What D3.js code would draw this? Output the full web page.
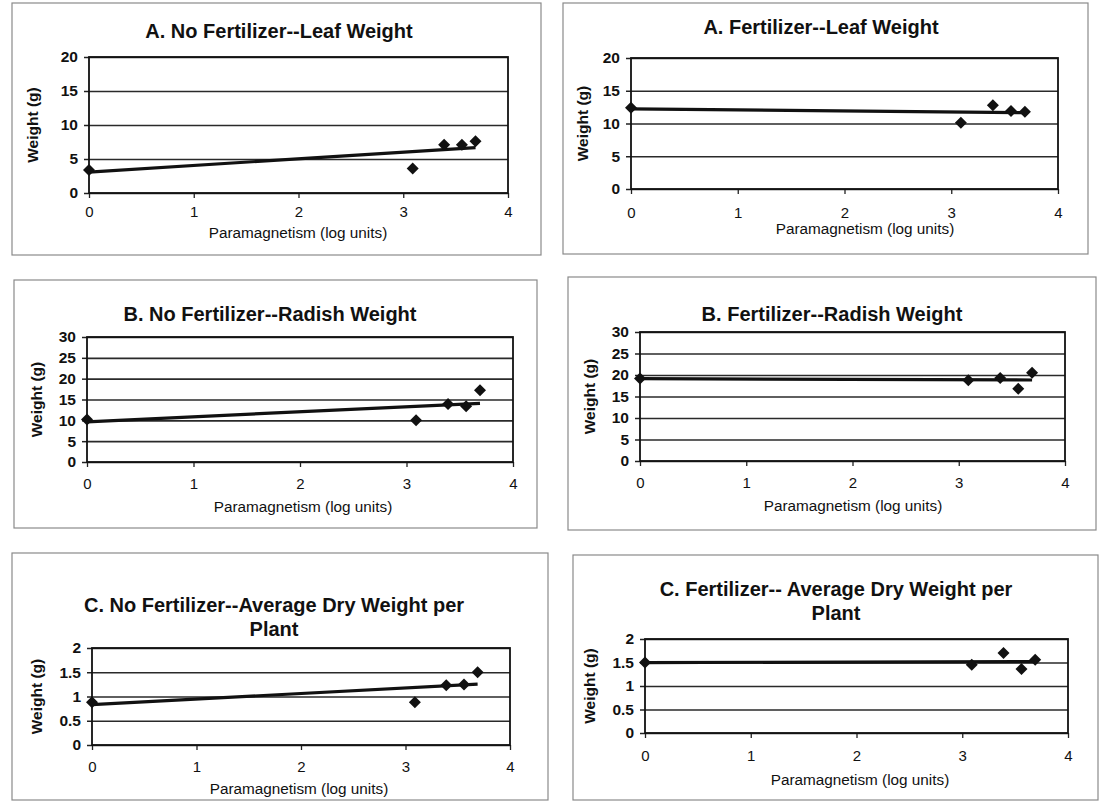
<!DOCTYPE html>
<html>
<head>
<meta charset="utf-8">
<script src="https://cdn.jsdelivr.net/npm/d3@7"></script>
<style>
  html, body { margin: 0; padding: 0; background: #ffffff; }
  svg { display: block; }
  text { font-family: Arial, "Liberation Sans", sans-serif; fill: #111; }
</style>
</head>
<body>
<svg id="chart" width="1102" height="807"></svg>
<script>
// ---------------- data ----------------
const xTicks = [0, 1, 2, 3, 4];
const paramagnetism = [0, 3.09, 3.39, 3.56, 3.69];

const leafNoFert   = [3.4, 3.6, 7.1, 7.1, 7.6];
const leafFert     = [12.4, 10.1, 12.8, 11.9, 11.8];
const radishNoFert = [10.2, 10.0, 13.9, 13.4, 17.2];
const radishFert   = [19.2, 18.8, 19.3, 16.8, 20.5];
const dryNoFert    = [0.88, 0.88, 1.23, 1.25, 1.5];
const dryFert      = [1.5, 1.45, 1.70, 1.36, 1.56];

const leafTicks   = [0, 5, 10, 15, 20];
const radishTicks = [0, 5, 10, 15, 20, 25, 30];
const dryTicks    = [0, 0.5, 1, 1.5, 2];

const titles = [
  ["A. No Fertilizer--Leaf Weight"],
  ["A. Fertilizer--Leaf Weight"],
  ["B. No Fertilizer--Radish Weight"],
  ["B. Fertilizer--Radish Weight"],
  ["C. No Fertilizer--Average Dry Weight per", "Plant"],
  ["C. Fertilizer-- Average Dry Weight per", "Plant"]
];
const xTitle = "Paramagnetism (log units)";
const yTitle = "Weight (g)";

const seriesList = [leafNoFert, leafFert, radishNoFert, radishFert, dryNoFert, dryFert];
const tickList = [leafTicks, leafTicks, radishTicks, radishTicks, dryTicks, dryTicks];

// ---------------- layout ----------------
const layout = [
  { box: [12, 3, 541, 255],  plot: [89, 508, 57, 193],  titleY: 31,  titleX: 279, xlabY: 233, xlabX: 298, ylabX: 33, tickGap: 19 },
  { box: [563, 3, 1088, 254], plot: [631, 1058, 58, 189], titleY: 27,  titleX: 821, xlabY: 229, xlabX: 865, ylabX: 583, tickGap: 24 },
  { box: [14, 280, 537, 528], plot: [87, 513, 337, 462], titleY: 314, titleX: 270, xlabY: 507, xlabX: 303, ylabX: 37, tickGap: 22 },
  { box: [568, 277, 1096, 530], plot: [640, 1065, 332, 461], titleY: 314, titleX: 832, xlabY: 506, xlabX: 853, ylabX: 590, tickGap: 22 },
  { box: [12, 553, 548, 800], plot: [92, 510, 648, 745], titleY: 605, titleX: 274, xlabY: 789, xlabX: 299, ylabX: 37, tickGap: 22 },
  { box: [573, 555, 1098, 800], plot: [645, 1068, 639, 733], titleY: 589, titleX: 836, xlabY: 780, xlabX: 860, ylabX: 590, tickGap: 23 }
];

const svg = d3.select("#chart");

function diamondPath(cx, cy, r) {
  const p = d3.path();
  p.moveTo(cx, cy - r);
  p.lineTo(cx + r, cy);
  p.lineTo(cx, cy + r);
  p.lineTo(cx - r, cy);
  p.closePath();
  return p.toString();
}

seriesList.forEach((vals, i) => {
  const L = layout[i];
  const [l, r, t, b] = L.plot;
  const ticks = tickList[i];
  const g = svg.append("g");

  // panel frame
  g.append("rect")
    .attr("x", L.box[0]).attr("y", L.box[1])
    .attr("width", L.box[2] - L.box[0]).attr("height", L.box[3] - L.box[1])
    .attr("fill", "none").attr("stroke", "#8a8a8a").attr("stroke-width", 1.2);

  // title
  titles[i].forEach((line, k) => {
    g.append("text")
      .attr("x", L.titleX).attr("y", L.titleY + k * 23.5)
      .attr("dy", "0.35em")
      .attr("text-anchor", "middle")
      .style("font-size", "20px").style("font-weight", "bold")
      .text(line);
  });

  const x = d3.scaleLinear().domain([0, 4]).range([l, r]);
  const y = d3.scaleLinear().domain([ticks[0], ticks[ticks.length - 1]]).range([b, t]);

  // y axis with gridlines
  const yAxis = d3.axisLeft(y).tickValues(ticks).tickSizeInner(-(r - l)).tickSizeOuter(0).tickPadding(11)
    .tickFormat(d3.format("~g"));
  const ya = g.append("g").attr("transform", `translate(${l},0)`).call(yAxis);
  ya.select(".domain").remove();
  ya.selectAll(".tick line").attr("stroke", "#2a2a2a").attr("stroke-width", 1.6);
  ya.selectAll(".tick").append("line").attr("x1", -5).attr("x2", 0).attr("stroke", "#222").attr("stroke-width", 1.5);
  ya.selectAll(".tick text").style("font-size", "15.5px").style("font-weight", "bold").attr("fill", "#111");

  // x axis
  const xAxis = d3.axisBottom(x).tickValues(xTicks).tickSizeInner(5).tickSizeOuter(0)
    .tickPadding(L.tickGap - 11).tickFormat(d3.format("d"));
  const xa = g.append("g").attr("transform", `translate(0,${b})`).call(xAxis);
  xa.select(".domain").remove();
  xa.selectAll(".tick line").attr("stroke", "#222").attr("stroke-width", 1.3);
  xa.selectAll(".tick text").style("font-size", "15px").attr("fill", "#111");

  // plot border
  g.append("rect")
    .attr("x", l).attr("y", t).attr("width", r - l).attr("height", b - t)
    .attr("fill", "none").attr("stroke", "#111").attr("stroke-width", 1.8);

  // axis titles
  g.append("text")
    .attr("x", L.xlabX).attr("y", L.xlabY).attr("dy", "0.35em")
    .attr("text-anchor", "middle").style("font-size", "15.3px")
    .text(xTitle);
  g.append("text")
    .attr("transform", `translate(${L.ylabX},${(t + b) / 2}) rotate(-90)`)
    .attr("dy", "0.35em").attr("text-anchor", "middle")
    .style("font-size", "15.5px").style("font-weight", "bold")
    .text(yTitle);

  // linear trend line (least squares from the points)
  const pts = paramagnetism.map((px, j) => [px, vals[j]]);
  const mx = d3.mean(pts, d => d[0]);
  const my = d3.mean(pts, d => d[1]);
  const sxy = d3.sum(pts, d => (d[0] - mx) * (d[1] - my));
  const sxx = d3.sum(pts, d => (d[0] - mx) * (d[0] - mx));
  const slope = sxy / sxx;
  const icpt = my - slope * mx;
  const xEnd = d3.max(paramagnetism);
  const trend = [[0, icpt], [xEnd, icpt + slope * xEnd]];
  g.append("path")
    .attr("d", d3.line().x(d => x(d[0])).y(d => y(d[1]))(trend))
    .attr("fill", "none").attr("stroke", "#111").attr("stroke-width", 3.2);

  // points
  g.selectAll("path.pt").data(pts).enter().append("path")
    .attr("class", "pt")
    .attr("d", d => diamondPath(x(d[0]), y(d[1]), 6))
    .attr("fill", "#111");
});
</script>
</body>
</html>
